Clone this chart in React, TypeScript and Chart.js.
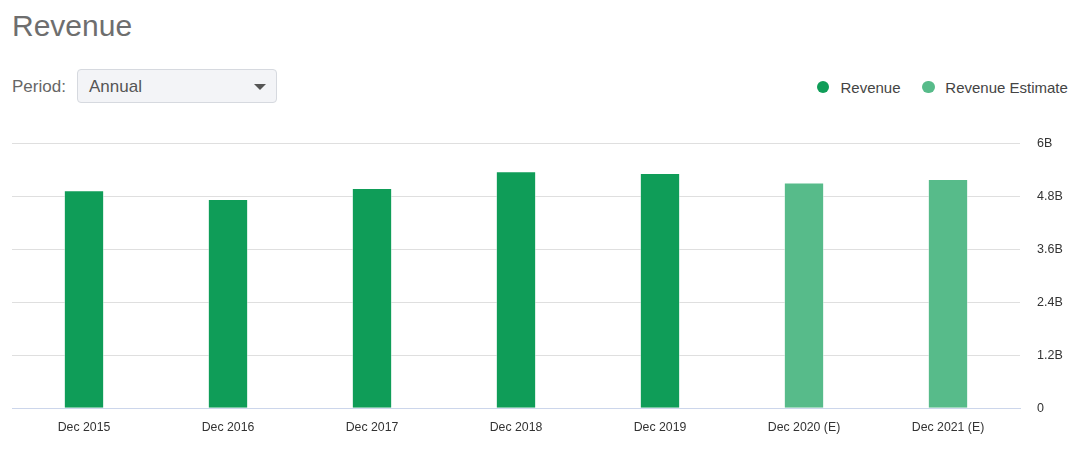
import React, { useEffect, useRef } from "react";
import { Chart, registerables } from "chart.js";

Chart.register(...registerables);

const categories = [
  "Dec 2015",
  "Dec 2016",
  "Dec 2017",
  "Dec 2018",
  "Dec 2019",
  "Dec 2020 (E)",
  "Dec 2021 (E)",
];
const revenue = [4.935e9, 4.74e9, 4.99e9, 5.37e9, 5.33e9, null, null];
const revenueEstimate = [null, null, null, null, null, 5.11e9, 5.19e9];
const yTicks = [0, 1.2e9, 2.4e9, 3.6e9, 4.8e9, 6e9];

const DARK = "#0f9d58";
const LIGHT = "#57bb8a";
const FONT = "'Liberation Sans', Arial, sans-serif";

function fmt(v: number): string {
  if (v === 0) return "0";
  return `${Math.round((v / 1e9) * 10) / 10}B`;
}

export default function App() {
  const ref = useRef<HTMLCanvasElement | null>(null);

  useEffect(() => {
    document.body.style.margin = "0";
    if (!ref.current) return;
    const chart = new Chart(ref.current, {
      type: "bar",
      data: {
        labels: categories,
        datasets: [
          {
            label: "Revenue",
            data: revenue,
            backgroundColor: DARK,
            borderColor: "rgba(255,255,255,0.45)",
            borderWidth: 1,
            barPercentage: 0.28,
            categoryPercentage: 1,
          },
          {
            label: "Revenue Estimate",
            data: revenueEstimate,
            backgroundColor: LIGHT,
            borderColor: "rgba(255,255,255,0.45)",
            borderWidth: 1,
            barPercentage: 0.28,
            categoryPercentage: 1,
          },
        ],
      },
      options: {
        animation: false,
        responsive: false,
        maintainAspectRatio: false,
        layout: { padding: { left: 12, right: 0, top: 13.3, bottom: 0 } },
        plugins: {
          legend: { display: false },
          tooltip: { enabled: false },
        },
        scales: {
          x: {
            stacked: true,
            grid: { display: false, drawTicks: false },
            border: { display: true, color: "#ccd6eb", width: 1, z: 1 },
            ticks: {
              color: "#333333",
              font: { family: FONT, size: 12.3 },
              padding: 12,
              maxRotation: 0,
              autoSkip: false,
            },
            afterFit: (s: any) => {
              s.height = 45.7;
            },
          },
          y: {
            position: "right",
            min: 0,
            max: 6e9,
            afterBuildTicks: (s: any) => {
              s.ticks = yTicks.map((v) => ({ value: v }));
            },
            grid: {
              color: "#dfdfdf",
              drawTicks: true,
              tickLength: 17,
              tickColor: "rgba(0,0,0,0)",
              lineWidth: 1,
            },
            border: { display: false },
            ticks: {
              color: "#333333",
              font: { family: FONT, size: 12.5 },
              padding: 0,
              callback: (v: any) => fmt(Number(v)),
            },
            afterFit: (s: any) => {
              s.width = 57;
            },
          },
        },
      },
    });
    return () => chart.destroy();
  }, []);

  return (
    <div
      style={{
        position: "relative",
        width: 1077,
        height: 454,
        fontFamily: FONT,
        background: "#fff",
        overflow: "hidden",
      }}
    >
      <div
        style={{
          position: "absolute",
          left: 12,
          top: 10.6,
          fontSize: 30,
          lineHeight: "30px",
          color: "#6e6e6e",
        }}
      >
        Revenue
      </div>
      <div
        style={{
          position: "absolute",
          left: 12,
          top: 78,
          fontSize: 17,
          lineHeight: "17px",
          color: "#666",
        }}
      >
        Period:
      </div>
      <div
        style={{
          position: "absolute",
          left: 77,
          top: 69,
          width: 198,
          height: 32,
          boxSizing: "content-box",
          background: "#f3f4f7",
          border: "1px solid #d6d9df",
          borderRadius: 4,
        }}
      >
        <div
          style={{
            position: "absolute",
            left: 11,
            top: 8,
            fontSize: 17,
            lineHeight: "17px",
            color: "#555",
          }}
        >
          Annual
        </div>
        <div
          style={{
            position: "absolute",
            left: 176,
            top: 14,
            width: 0,
            height: 0,
            borderLeft: "6.5px solid transparent",
            borderRight: "6.5px solid transparent",
            borderTop: "6px solid #555",
          }}
        />
      </div>
      <div
        style={{
          position: "absolute",
          left: 816.7,
          top: 80.7,
          width: 12.6,
          height: 12.6,
          borderRadius: "50%",
          background: DARK,
        }}
      />
      <div
        style={{
          position: "absolute",
          left: 840.5,
          top: 79.6,
          fontSize: 15,
          lineHeight: "15px",
          color: "#444",
        }}
      >
        Revenue
      </div>
      <div
        style={{
          position: "absolute",
          left: 922,
          top: 80.7,
          width: 12.6,
          height: 12.6,
          borderRadius: "50%",
          background: LIGHT,
        }}
      />
      <div
        style={{
          position: "absolute",
          left: 945.3,
          top: 79.6,
          fontSize: 15,
          lineHeight: "15px",
          color: "#444",
        }}
      >
        Revenue Estimate
      </div>
      <canvas
        ref={ref}
        width={1077}
        height={324}
        style={{ position: "absolute", left: 0, top: 130, width: 1077, height: 324 }}
      />
    </div>
  );
}
